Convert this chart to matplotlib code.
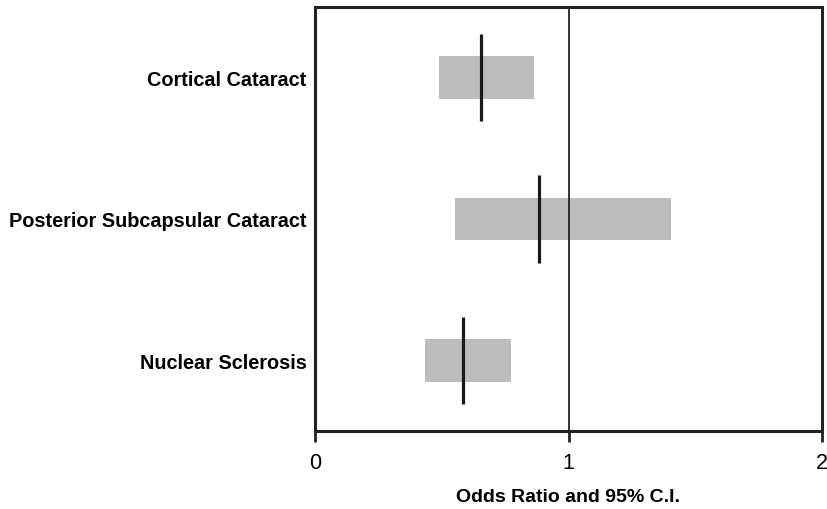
import matplotlib.pyplot as plt

# values
categories = ["Cortical Cataract", "Posterior Subcapsular Cataract", "Nuclear Sclerosis"]
odds_ratio = [0.655, 0.884, 0.583]
ci_low = [0.49, 0.552, 0.434]
ci_high = [0.865, 1.404, 0.773]
xticks = [0, 1, 2]

plt.rcParams['font.family'] = ['Liberation Sans', 'DejaVu Sans']

fig = plt.figure(figsize=(8.28, 5.10), dpi=100)
ax = fig.add_axes([315 / 828, 1 - 432 / 510, (822 - 315) / 828, (432 - 8) / 510])

ypos = list(range(len(categories)))
widths = [h - l for l, h in zip(ci_low, ci_high)]
ax.barh(ypos, widths, left=ci_low, height=0.30, color='#bcbcbc', edgecolor='none', zorder=1)
ax.axvline(1, color='#222222', lw=1.3, zorder=2)
for y, o in zip(ypos, odds_ratio):
    ax.plot([o, o], [y - 0.31, y + 0.31], color='#1a1a1a', lw=2.3, solid_capstyle='butt', zorder=3)

ax.set_xlim(0, 2)
ax.set_ylim(len(categories) - 0.5, -0.5)
ax.set_xticks(xticks)
ax.set_xticklabels([str(t) for t in xticks], fontsize=15.5)
ax.set_yticks(ypos)
ax.set_yticklabels(categories, fontsize=14.3, fontweight='bold')
ax.tick_params(axis='y', length=0, pad=6)
ax.tick_params(axis='x', length=8, width=2, direction='out', pad=7, color='#222222')
for s in ax.spines.values():
    s.set_linewidth(2.2)
    s.set_color('#222222')
ax.set_xlabel("Odds Ratio and 95% C.I.", fontsize=14, fontweight='bold', labelpad=11)

fig.savefig("out.png", dpi=100)
